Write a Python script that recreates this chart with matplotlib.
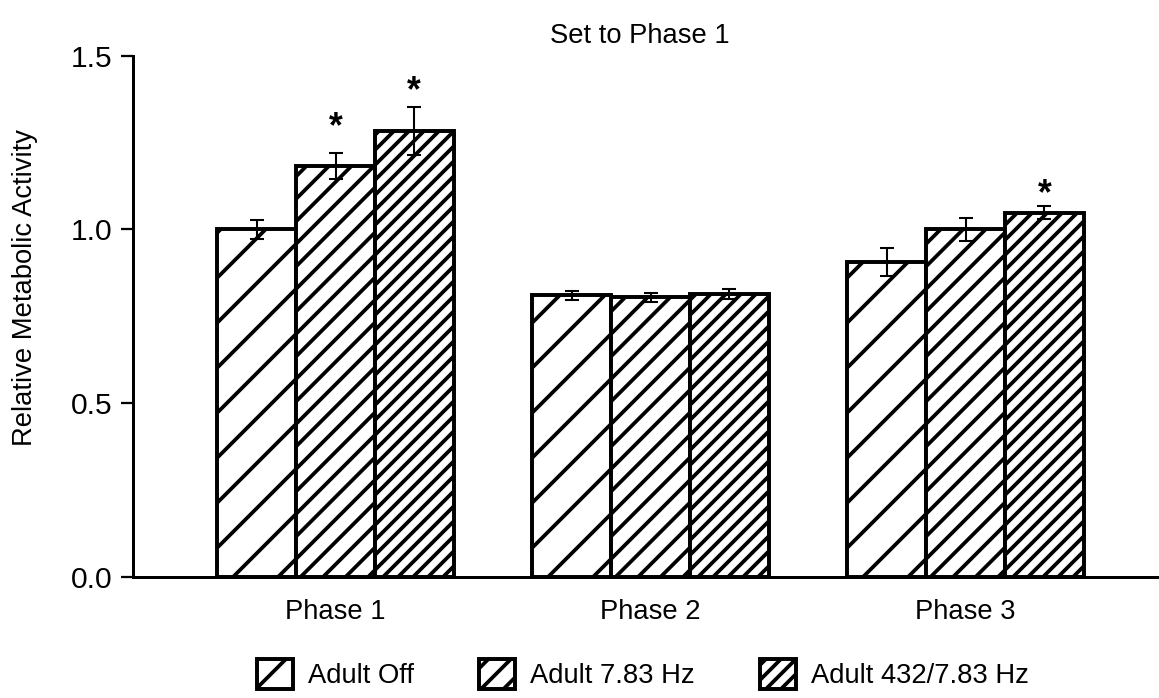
"""
Relative metabolic activity, set to phase 1.
Grouped hatched bar chart with error bars and significance stars.
"""
import numpy as np
import matplotlib
matplotlib.use('Agg')
import matplotlib.pyplot as plt

# ---------------------------------------------------------------------------
# Data
# ---------------------------------------------------------------------------
phases = ['Phase 1', 'Phase 2', 'Phase 3']
series = ['Adult Off', 'Adult 7.83 Hz', 'Adult 432/7.83 Hz']

adult_off = [1.00, 0.81, 0.907]
adult_783 = [1.182, 0.804, 1.00]
adult_432 = [1.283, 0.813, 1.048]

err_off = [0.027, 0.013, 0.040]
err_783 = [0.037, 0.012, 0.033]
err_432 = [0.070, 0.015, 0.018]

# significance stars: phase index, series index, height of the star
star_phase = [0, 0, 2]
star_series = [1, 2, 2]
star_y = [1.326, 1.427, 1.133]

hatches = ['//', '////', '//////']
yticks = [0.0, 0.5, 1.0, 1.5]

# ---------------------------------------------------------------------------
# Style
# ---------------------------------------------------------------------------
DPI = 270   # hatch spacing scales with dpi, this gives the sparse hatching
W, H = 1159, 698
FS = 7.3
plt.rcParams['font.family'] = ['Liberation Sans', 'DejaVu Sans']
plt.rcParams['hatch.linewidth'] = 1.0
plt.rcParams['axes.linewidth'] = 0.8

fig = plt.figure(figsize=(W / DPI, H / DPI), dpi=DPI)
ax = fig.add_axes([133 / W, 1 - 576.7 / H, 1 - 133 / W, (576.7 - 55.6) / H])

values = [adult_off, adult_783, adult_432]
errors = [err_off, err_783, err_432]
x = np.arange(len(phases))
width = 0.25

for i, (vals, errs) in enumerate(zip(values, errors)):
    pos = x + (i - 1) * width
    ax.bar(pos, vals, width, facecolor='white', edgecolor='black',
           linewidth=1.05, hatch=hatches[i], label=series[i], zorder=2)
    ax.errorbar(pos, vals, yerr=errs, fmt='none', ecolor='black',
                elinewidth=0.55, capsize=1.9, capthick=0.55, zorder=3)

# star glyph sits high in its text box, shift baseline down to centre it
star_fs = 9.5
for p, s, sy in zip(star_phase, star_series, star_y):
    ax.annotate('*', (x[p] + (s - 1) * width, sy), xytext=(0, -0.58 * star_fs),
                textcoords='offset points', ha='center', va='baseline',
                fontsize=star_fs, fontweight='bold', zorder=4)

ax.set_xlim(-0.643, 2.614)
ax.set_ylim(0, 1.5)
ax.set_xticks(x)
ax.set_xticklabels(phases, fontsize=FS)
ax.set_yticks(yticks)
ax.set_yticklabels([f'{t:.1f}' for t in yticks], fontsize=8.0)
ax.tick_params(axis='x', length=0, pad=6)
ax.tick_params(axis='y', length=3.2, width=0.6, pad=2.4)

ax.spines['top'].set_visible(False)
ax.spines['right'].set_visible(False)

ax.set_ylabel('Relative Metabolic Activity', fontsize=FS)
ax.yaxis.set_label_coords(-0.0926, 0.555)

fig.text(640 / W, 1 - 43 / H, 'Set to Phase 1', ha='center', va='baseline',
         fontsize=FS)

fig.legend(loc='center', bbox_to_anchor=(643 / W, 1 - 674 / H), ncol=3,
           frameon=False, fontsize=FS, handlelength=1.3, handleheight=1.3,
           handletextpad=0.55, columnspacing=2.4)

fig.savefig('out.png', dpi=DPI)
